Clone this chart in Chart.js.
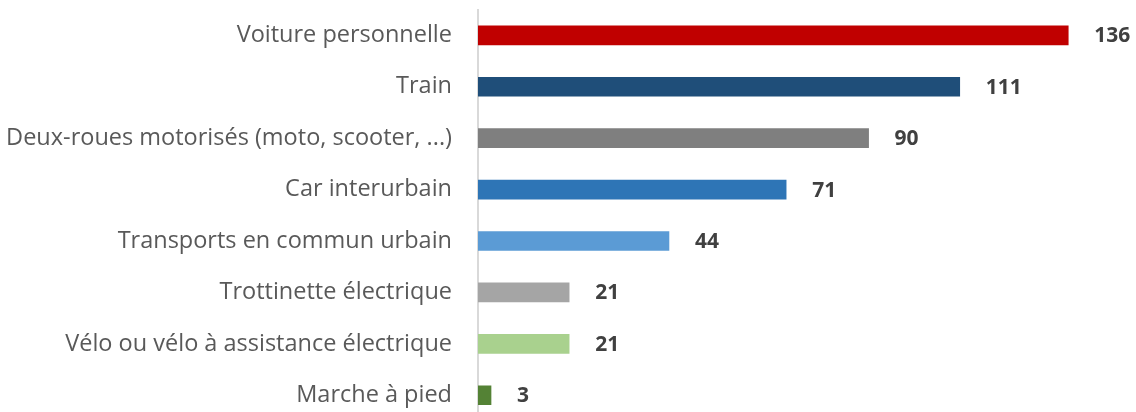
<!DOCTYPE html>
<html>
<head>
<meta charset="utf-8">
<script src="https://cdn.jsdelivr.net/npm/chart.js@4.4.1/dist/chart.umd.min.js"></script>
<style>
html,body{margin:0;padding:0;background:#fff;overflow:hidden;}
#wrap{position:absolute;left:0;top:0;width:1136px;height:421px;}
</style>
</head>
<body>
<div id="wrap"><canvas id="c" width="1136" height="421"></canvas></div>
<script>
const categories = [
  "Voiture personnelle",
  "Train",
  "Deux-roues motorisés (moto, scooter, ...)",
  "Car interurbain",
  "Transports en commun urbain",
  "Trottinette électrique",
  "Vélo ou vélo à assistance électrique",
  "Marche à pied"
];
const values = [136, 111, 90, 71, 44, 21, 21, 3];
const barColors = ["#c00000", "#1f4e79", "#7f7f7f", "#2e75b6", "#5b9bd5", "#a5a5a5", "#a9d18e", "#548235"];

const FONT = "Open Sans";

const valueLabels = {
  id: "valueLabels",
  afterDatasetsDraw(chart) {
    const ctx = chart.ctx;
    const meta = chart.getDatasetMeta(0);
    ctx.save();
    ctx.font = "bold 21px '" + FONT + "'";
    ctx.fillStyle = "#404040";
    ctx.textAlign = "left";
    ctx.textBaseline = "middle";
    meta.data.forEach((bar, i) => {
      ctx.fillText(String(values[i]), bar.x + 26, bar.y + 1);
    });
    ctx.restore();
  }
};

new Chart(document.getElementById("c"), {
  type: "bar",
  data: {
    labels: categories,
    datasets: [{
      data: values,
      backgroundColor: barColors,
      borderWidth: 0,
      barThickness: 19,
      categoryPercentage: 1
    }]
  },
  options: {
    indexAxis: "y",
    responsive: false,
    animation: false,
    layout: { padding: { top: 9.6, right: 7, bottom: 0, left: 0 } },
    plugins: { legend: { display: false }, tooltip: { enabled: false } },
    scales: {
      x: {
        display: false,
        min: 0,
        max: 150
      },
      y: {
        grid: { display: true, drawOnChartArea: false, drawTicks: true, tickLength: 26, color: "rgba(0,0,0,0)" },
        border: { display: true, color: "#d9d9d9", width: 2 },
        ticks: {
          color: "#595959",
          font: { family: FONT, size: 23.5 },
          padding: 0
        },
        afterFit(scale) {
          scale.width = 478;
          scale.paddingTop = 0;
          scale.paddingBottom = 0;
        }
      }
    }
  },
  plugins: [valueLabels]
});
</script>
</body>
</html>
